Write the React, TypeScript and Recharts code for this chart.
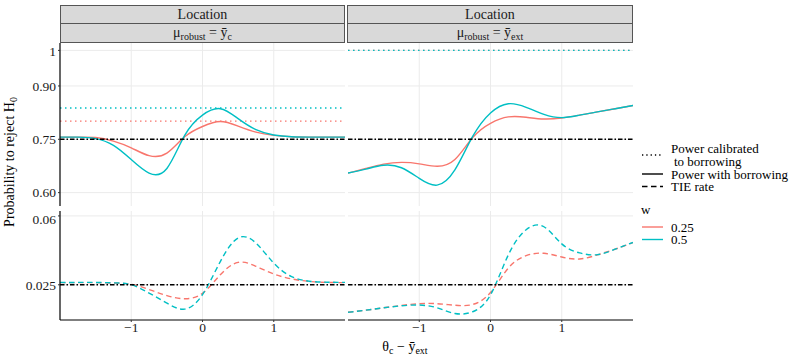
import { LineChart, Line, XAxis, YAxis, CartesianGrid, ReferenceLine } from "recharts";

// difference theta_c - ybar_ext
const xs = [-2, -1.75, -1.5, -1.25, -1, -0.75, -0.5, -0.25, 0, 0.25, 0.5, 0.75, 1, 1.25, 1.5, 1.75, 2];

// power with borrowing
const powerYc025 = [0.756, 0.756, 0.755, 0.745, 0.726, 0.704, 0.711, 0.757, 0.786, 0.8, 0.787, 0.77, 0.761, 0.757, 0.756, 0.756, 0.756];
const powerYc05 = [0.756, 0.756, 0.752, 0.733, 0.693, 0.655, 0.668, 0.761, 0.818, 0.836, 0.808, 0.777, 0.762, 0.757, 0.756, 0.756, 0.756];
const powerExt025 = [0.655, 0.668, 0.68, 0.685, 0.681, 0.674, 0.693, 0.755, 0.795, 0.813, 0.812, 0.807, 0.81, 0.818, 0.827, 0.836, 0.845];
const powerExt05 = [0.655, 0.666, 0.677, 0.67, 0.64, 0.621, 0.664, 0.758, 0.824, 0.85, 0.84, 0.82, 0.811, 0.818, 0.827, 0.836, 0.845];

// type I error rate
const tieYc025 = [0.0261, 0.0261, 0.0261, 0.0259, 0.0252, 0.0226, 0.0195, 0.0179, 0.0207, 0.0301, 0.0364, 0.0344, 0.0305, 0.028, 0.0267, 0.0262, 0.0261];
const tieYc05 = [0.0262, 0.0262, 0.0262, 0.026, 0.025, 0.0208, 0.0157, 0.0126, 0.02, 0.0368, 0.0488, 0.0462, 0.036, 0.0292, 0.0268, 0.0263, 0.0262];
const tieExt025 = [0.011, 0.0121, 0.0133, 0.0145, 0.0154, 0.0154, 0.0146, 0.015, 0.0211, 0.0335, 0.0398, 0.041, 0.0391, 0.0381, 0.0402, 0.0431, 0.0465];
const tieExt05 = [0.011, 0.0121, 0.0133, 0.0143, 0.0147, 0.0133, 0.0104, 0.0113, 0.0199, 0.0402, 0.053, 0.0545, 0.0458, 0.0412, 0.0403, 0.0431, 0.0465];

// power calibrated to borrowing [w=0.25, w=0.5]
const calibYc = [0.801, 0.838];
const calibExt = [1, 1];

const powerTicks = [0.6, 0.75, 0.9, 1];
const tieTicks = [0.025, 0.06];
const xTicks = [-1, 0, 1];
const targetPower = 0.75;
const targetTie = 0.025;

const RED = "#F8766D";
const CYAN = "#00BFC4";
const FONT = "'Liberation Serif', 'DejaVu Serif', 'Times New Roman', Times, serif";

const toRows = (a: number[], b: number[]) => xs.map((x, i) => ({ x, w025: a[i], w05: b[i] }));

const powerFmt = (v: number) => (v === 1 ? "1" : v.toFixed(2));
const tieFmt = (v: number) => String(v);
const xFmt = (v: number) => String(v).replace("-", "\u2212");

type PanelProps = {
  a: number[];
  b: number[];
  left: boolean;
  bottom: boolean;
  calib?: number[];
};

const Panel = ({ a, b, left, bottom, calib }: PanelProps) => {
  const isTop = !bottom;
  const ticks = isTop ? powerTicks : tieTicks;
  const domain: [number, number] = isTop ? [0.5624, 1.0208] : [0.0071, 0.0625];
  const plotH = isTop ? 163 : 109;
  const w = left ? 345 : 285;
  const h = bottom ? plotH + 30 : plotH;
  const dash = bottom ? "5.5 3.5" : undefined;
  return (
    <div style={{ position: "absolute", left: left ? 0 : 348, top: isTop ? 43 : 211 }}>
      <LineChart width={w} height={h} data={toRows(a, b)} margin={{ top: 0, right: 0, bottom: 0, left: 0 }}>
        <CartesianGrid stroke="#ebebeb" strokeWidth={1} horizontalValues={ticks} verticalValues={xTicks} />
        <XAxis
          dataKey="x"
          type="number"
          domain={[-2, 2]}
          ticks={xTicks}
          hide={!bottom}
          height={30}
          axisLine={{ stroke: "#000", strokeWidth: 1.2 }}
          tickLine={{ stroke: "#333" }}
          tickSize={2}
          tickMargin={0}
          tickFormatter={xFmt}
          tick={{ fontSize: 13.5, fill: "#1a1a1a", fontFamily: FONT }}
        />
        <YAxis
          type="number"
          domain={domain}
          ticks={ticks}
          hide={!left}
          width={60}
          allowDataOverflow
          axisLine={{ stroke: "#000", strokeWidth: 1.2 }}
          tickLine={{ stroke: "#333" }}
          tickSize={2}
          tickMargin={2}
          tickFormatter={isTop ? powerFmt : tieFmt}
          tick={{ fontSize: 13.5, fill: "#1a1a1a", fontFamily: FONT }}
        />
        {calib && <ReferenceLine y={calib[0]} stroke={RED} strokeWidth={1.4} strokeDasharray="1.5 3.5" />}
        {calib && <ReferenceLine y={calib[1]} stroke={CYAN} strokeWidth={1.4} strokeDasharray="1.5 3.5" />}
        <Line type="natural" dataKey="w025" stroke={RED} strokeWidth={1.4} strokeDasharray={dash} dot={false} isAnimationActive={false} />
        <Line type="natural" dataKey="w05" stroke={CYAN} strokeWidth={1.4} strokeDasharray={dash} dot={false} isAnimationActive={false} />
        <ReferenceLine y={isTop ? targetPower : targetTie} stroke="#000" strokeWidth={1.4} strokeDasharray="4.5 2 1.5 2" />
      </LineChart>
    </div>
  );
};

const stripBox = (left: number, top: number, width: number): React.CSSProperties => ({
  position: "absolute",
  left,
  top,
  width,
  height: 19,
  boxSizing: "border-box",
  background: "#d9d9d9",
  border: "1px solid #555",
  fontSize: 14,
  color: "#1a1a1a",
  textAlign: "center",
  lineHeight: "17px",
  whiteSpace: "nowrap",
});

const sub: React.CSSProperties = { fontSize: 10, verticalAlign: "-3px" };

const Strips = ({ left, width, which }: { left: number; width: number; which: string }) => (
  <>
    <div style={stripBox(left, 5, width)}>Location</div>
    <div style={{ ...stripBox(left, 24, width), borderTop: "none" }}>
      μ<span style={sub}>robust</span> = ȳ<span style={sub}>{which}</span>
    </div>
  </>
);

const legendKeyX1 = 642;
const legendKeyX2 = 663;
const legendTextX = 671;

const Legend = () => (
  <svg width={793} height={360} style={{ position: "absolute", left: 0, top: 0, pointerEvents: "none" }}>
    <g fontFamily={FONT} fontSize={13} fill="#000">
      <line x1={legendKeyX1} x2={legendKeyX2} y1={155} y2={155} stroke="#000" strokeWidth={1.3} strokeDasharray="1.3 3" />
      <text x={legendTextX} y={152.5}>Power calibrated</text>
      <text x={legendTextX + 3} y={165.5}>to borrowing</text>
      <line x1={legendKeyX1} x2={legendKeyX2} y1={174} y2={174} stroke="#000" strokeWidth={1.4} />
      <text x={legendTextX} y={178.5}>Power with borrowing</text>
      <line x1={legendKeyX1} x2={legendKeyX2} y1={186.5} y2={186.5} stroke="#000" strokeWidth={1.4} strokeDasharray="5.5 3.5" />
      <text x={legendTextX} y={191}>TIE rate</text>
      <text x={641} y={214}>w</text>
      <line x1={legendKeyX1} x2={legendKeyX2} y1={227} y2={227} stroke={RED} strokeWidth={1.4} />
      <text x={legendTextX} y={231.5}>0.25</text>
      <line x1={legendKeyX1} x2={legendKeyX2} y1={239.5} y2={239.5} stroke={CYAN} strokeWidth={1.4} />
      <text x={legendTextX} y={244}>0.5</text>
    </g>
  </svg>
);

const App = () => {
  return (
    <div
      style={{
        position: "absolute",
        left: 0,
        top: 0,
        width: 793,
        height: 360,
        background: "#fff",
        fontFamily: FONT,
        overflow: "hidden",
      }}
    >
      <Strips left={60} width={285} which="c" />
      <Strips left={347} width={286} which="ext" />

      <Panel a={powerYc025} b={powerYc05} left bottom={false} calib={calibYc} />
      <Panel a={powerExt025} b={powerExt05} left={false} bottom={false} calib={calibExt} />
      <Panel a={tieYc025} b={tieYc05} left bottom />
      <Panel a={tieExt025} b={tieExt05} left={false} bottom />

      <div
        style={{
          position: "absolute",
          left: 10,
          top: 162,
          transform: "translate(-50%, -50%) rotate(-90deg)",
          fontSize: 14,
          color: "#000",
          whiteSpace: "nowrap",
        }}
      >
        Probability to reject H<span style={sub}>0</span>
      </div>
      <div
        style={{
          position: "absolute",
          left: 405,
          top: 347,
          transform: "translate(-50%, -50%)",
          fontSize: 14,
          color: "#000",
          whiteSpace: "nowrap",
        }}
      >
        θ<span style={sub}>c</span> − ȳ<span style={sub}>ext</span>
      </div>
      <Legend />
    </div>
  );
};

export default App;
